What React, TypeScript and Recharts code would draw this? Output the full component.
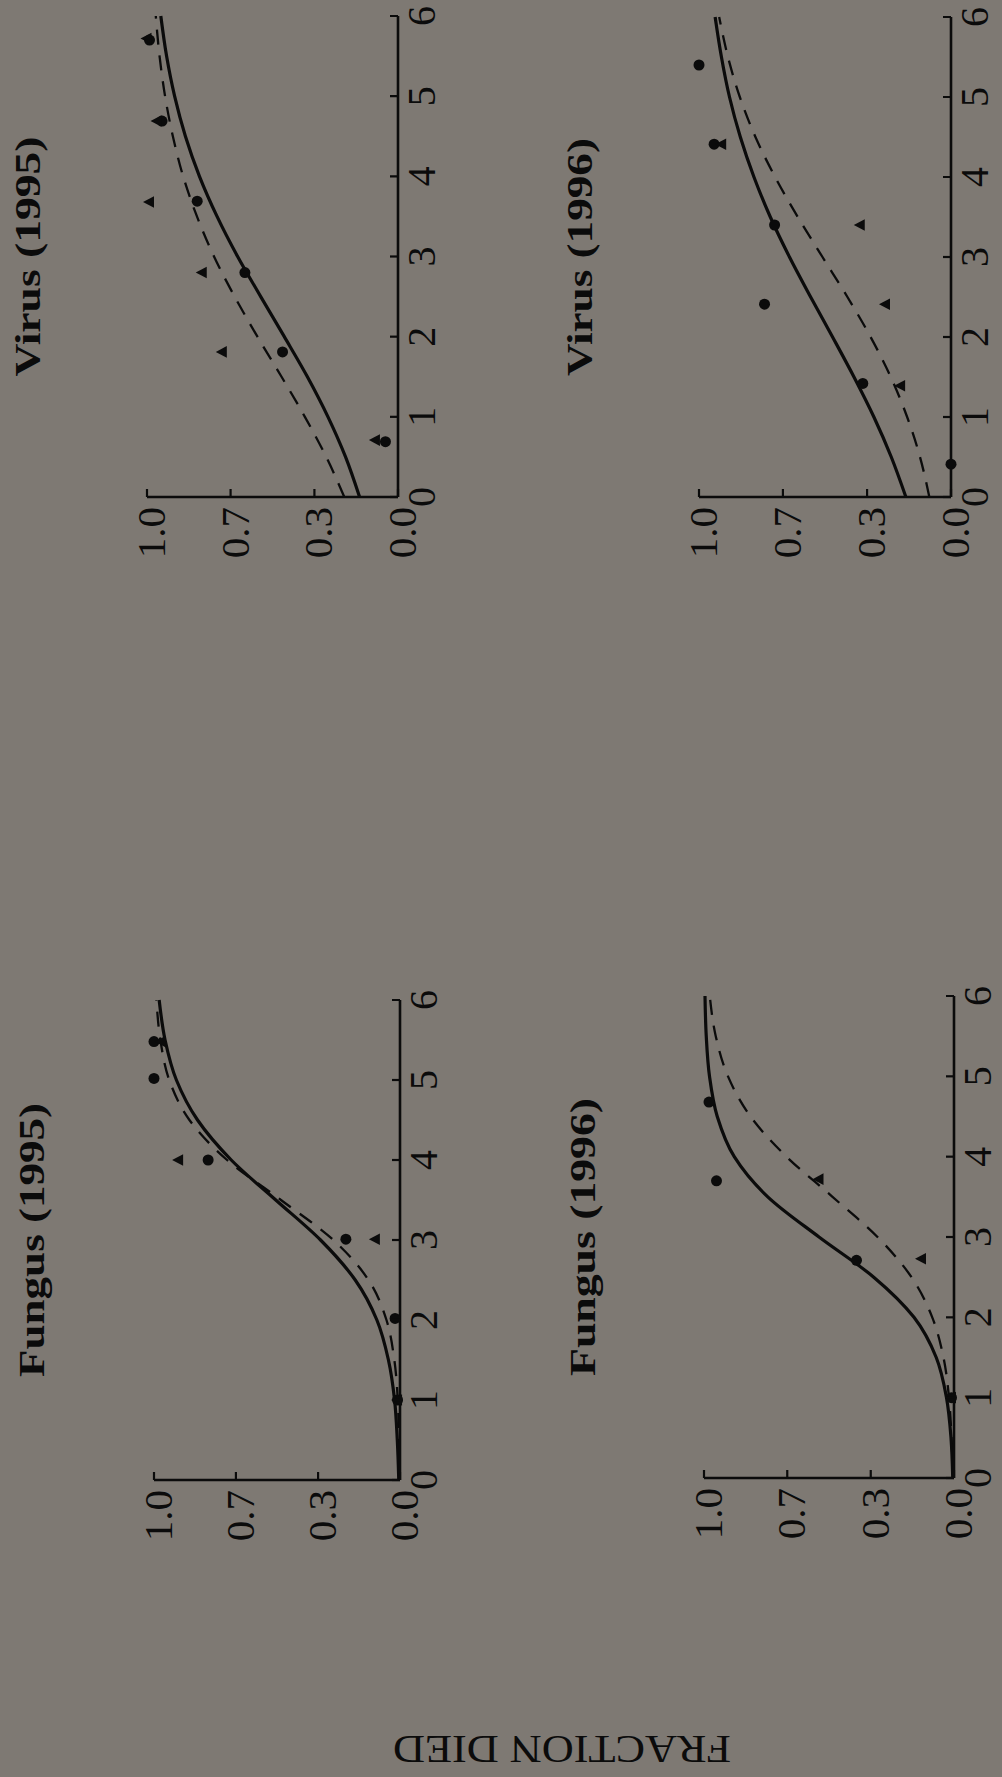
import React from 'react';
import { ComposedChart, Line, Scatter, XAxis, YAxis } from 'recharts';

// ---------- data ----------
const X_TICKS = [0, 1, 2, 3, 4, 5, 6];
const Y_TICKS = [0, 0.333, 0.667, 1];
const Y_TICK_LABELS = ['0.0', '0.3', '0.7', '1.0'];

const CURVE_X = [0, 0.5, 1, 1.5, 2, 2.5, 3, 3.5, 4, 4.5, 5, 5.5, 6];

const FUNGUS95_SOLID = [0.005, 0.011, 0.022, 0.047, 0.094, 0.182, 0.323, 0.505, 0.686, 0.823, 0.909, 0.955, 0.979];
const FUNGUS95_DASHED = [0.001, 0.004, 0.009, 0.023, 0.055, 0.128, 0.271, 0.484, 0.703, 0.856, 0.938, 0.974, 0.99];
const VIRUS95_SOLID = [0.153, 0.209, 0.279, 0.361, 0.453, 0.547, 0.639, 0.721, 0.791, 0.847, 0.89, 0.922, 0.945];
const VIRUS95_DASHED = [0.214, 0.286, 0.371, 0.464, 0.56, 0.651, 0.733, 0.801, 0.856, 0.897, 0.928, 0.95, 0.965];
const FUNGUS96_SOLID = [0.005, 0.012, 0.03, 0.071, 0.16, 0.321, 0.54, 0.745, 0.879, 0.947, 0.978, 0.991, 0.996];
const FUNGUS96_DASHED = [0.004, 0.01, 0.02, 0.042, 0.087, 0.17, 0.306, 0.486, 0.67, 0.814, 0.904, 0.953, 0.977];
const VIRUS96_SOLID = [0.179, 0.237, 0.306, 0.385, 0.47, 0.557, 0.641, 0.717, 0.782, 0.836, 0.879, 0.911, 0.936];
const VIRUS96_DASHED = [0.086, 0.123, 0.174, 0.239, 0.319, 0.411, 0.51, 0.608, 0.698, 0.776, 0.838, 0.885, 0.92];

const FUNGUS95_CIRCLE_X = [1.0, 2.02, 3.01, 4.0, 5.02, 5.48];
const FUNGUS95_CIRCLE_Y = [0.01, 0.02, 0.22, 0.78, 1.0, 1.0];
const FUNGUS95_TRI_X = [1.0, 3.01, 4.0, 5.48];
const FUNGUS95_TRI_Y = [0.01, 0.1, 0.9, 0.97];

const VIRUS95_CIRCLE_X = [0.69, 1.81, 2.8, 3.69, 4.69, 5.7];
const VIRUS95_CIRCLE_Y = [0.05, 0.46, 0.61, 0.8, 0.94, 0.99];
const VIRUS95_TRI_X = [0.71, 1.81, 2.8, 3.68, 4.69, 5.72];
const VIRUS95_TRI_Y = [0.09, 0.7, 0.78, 0.99, 0.96, 1.0];

const FUNGUS96_CIRCLE_X = [1.0, 2.71, 3.7, 4.68];
const FUNGUS96_CIRCLE_Y = [0.01, 0.39, 0.95, 0.98];
const FUNGUS96_TRI_X = [1.0, 2.73, 3.72];
const FUNGUS96_TRI_Y = [0.01, 0.13, 0.54];

const VIRUS96_CIRCLE_X = [0.41, 1.42, 2.41, 3.4, 4.41, 5.4];
const VIRUS96_CIRCLE_Y = [0.0, 0.35, 0.74, 0.7, 0.94, 1.0];
const VIRUS96_TRI_X = [1.39, 2.41, 3.4, 4.41];
const VIRUS96_TRI_Y = [0.2, 0.26, 0.36, 0.91];

const TITLES = ['Fungus (1995)', 'Virus (1995)', 'Fungus (1996)', 'Virus (1996)'];
const Y_LABEL = 'FRACTION DIED';

// ---------- helpers ----------
const zip = (xs: number[], ys: number[]) => xs.map((x, i) => ({ x, y: ys[i] }));
const curve = (s: number[], d: number[]) => CURVE_X.map((x, i) => ({ x, s: s[i], d: d[i] }));

const PANELS = [
  { title: TITLES[0], curve: curve(FUNGUS95_SOLID, FUNGUS95_DASHED), circles: zip(FUNGUS95_CIRCLE_X, FUNGUS95_CIRCLE_Y), tris: zip(FUNGUS95_TRI_X, FUNGUS95_TRI_Y), L: 297, T: 154, W: 480, H: 246, titleY: 44, titleLen: 274 },
  { title: TITLES[1], curve: curve(VIRUS95_SOLID, VIRUS95_DASHED), circles: zip(VIRUS95_CIRCLE_X, VIRUS95_CIRCLE_Y), tris: zip(VIRUS95_TRI_X, VIRUS95_TRI_Y), L: 1280, T: 147, W: 481, H: 251, titleY: 40, titleLen: 240 },
  { title: TITLES[2], curve: curve(FUNGUS96_SOLID, FUNGUS96_DASHED), circles: zip(FUNGUS96_CIRCLE_X, FUNGUS96_CIRCLE_Y), tris: zip(FUNGUS96_TRI_X, FUNGUS96_TRI_Y), L: 299, T: 704, W: 482, H: 250, titleY: 595, titleLen: 278 },
  { title: TITLES[3], curve: curve(VIRUS96_SOLID, VIRUS96_DASHED), circles: zip(VIRUS96_CIRCLE_X, VIRUS96_CIRCLE_Y), tris: zip(VIRUS96_TRI_X, VIRUS96_TRI_Y), L: 1280, T: 699, W: 480, H: 252, titleY: 592, titleLen: 238 },
];

const FONT = "'Liberation Serif', 'Times New Roman', serif";
const INK = '#0b0b0b';
const BG = '#7e7973';
const Y_AXIS_W = 90;
const X_AXIS_H = 46;
const M_TOP = 32;
const M_RIGHT = 14;

const XTick = (props: any) => {
  const { x, y, payload } = props;
  return (
    <g>
      <line x1={x} y1={y} x2={x} y2={y - 8} stroke={INK} strokeWidth={2.2} />
      <text x={x} y={y + 37} textAnchor="middle" fontFamily={FONT} fontSize={40} fill={INK}>
        {payload.value}
      </text>
    </g>
  );
};

const YTick = (props: any) => {
  const { x, y, payload } = props;
  const idx = Y_TICKS.indexOf(payload.value);
  return (
    <g>
      <line x1={x} y1={y} x2={x + 8} y2={y} stroke={INK} strokeWidth={2.2} />
      <text x={x - 10} y={y + 18} textAnchor="end" fontFamily={FONT} fontSize={41} fill={INK}>
        {Y_TICK_LABELS[idx]}
      </text>
    </g>
  );
};

const CircleDot = (p: any) => <circle cx={p.cx} cy={p.cy} r={5.5} fill={INK} />;
const TriDot = (p: any) => (
  <polygon points={`${p.cx},${p.cy - 6.5} ${p.cx - 5.8},${p.cy + 4.5} ${p.cx + 5.8},${p.cy + 4.5}`} fill={INK} />
);

const Panel = ({ panel }: { panel: any }) => {
  const width = Y_AXIS_W + panel.W + M_RIGHT;
  const height = M_TOP + panel.H + X_AXIS_H;
  return (
    <div style={{ position: 'absolute', left: panel.L - Y_AXIS_W, top: panel.T - M_TOP }}>
      <ComposedChart width={width} height={height} data={panel.curve} margin={{ top: M_TOP, right: M_RIGHT, bottom: 0, left: 0 }}>
        <XAxis
          dataKey="x"
          type="number"
          domain={[0, 6]}
          ticks={X_TICKS}
          interval={0}
          height={X_AXIS_H}
          tickSize={0}
          tickMargin={0}
          tickLine={false}
          axisLine={{ stroke: INK, strokeWidth: 2.6 }}
          tick={XTick}
        />
        <YAxis
          type="number"
          domain={[0, 1]}
          ticks={Y_TICKS}
          interval={0}
          width={Y_AXIS_W}
          tickSize={0}
          tickMargin={0}
          tickLine={false}
          axisLine={{ stroke: INK, strokeWidth: 2.6 }}
          tick={YTick}
        />
        <Line type="monotone" dataKey="d" stroke={INK} strokeWidth={2.3} strokeDasharray="15 11" dot={false} isAnimationActive={false} />
        <Line type="monotone" dataKey="s" stroke={INK} strokeWidth={3.2} dot={false} isAnimationActive={false} />
        <Scatter data={panel.circles} dataKey="y" shape={CircleDot} isAnimationActive={false} />
        <Scatter data={panel.tris} dataKey="y" shape={TriDot} isAnimationActive={false} />
      </ComposedChart>
    </div>
  );
};

export default function App() {
  return (
    <div style={{ position: 'absolute', left: 0, top: 0, width: 1002, height: 1777, background: BG, overflow: 'hidden' }}>
      <div
        style={{
          position: 'absolute',
          left: 0,
          top: 0,
          width: 1777,
          height: 1002,
          transformOrigin: '0 0',
          transform: 'translate(0px, 1777px) rotate(-90deg)',
        }}
      >
        <svg width={1777} height={1002} style={{ position: 'absolute', left: 0, top: 0 }}>
          {PANELS.map((p) => (
            <text
              key={p.title}
              x={p.L + p.W / 2}
              y={p.titleY}
              textAnchor="middle"
              fontFamily={FONT}
              fontWeight="bold"
              fontSize={36}
              fill={INK}
              textLength={p.titleLen}
              lengthAdjust="spacingAndGlyphs"
            >
              {p.title}
            </text>
          ))}
          <text
            transform="translate(41, 562) rotate(-90)"
            textAnchor="middle"
            fontFamily={FONT}
            fontSize={40}
            fill={INK}
            textLength={338}
            lengthAdjust="spacingAndGlyphs"
          >
            {Y_LABEL}
          </text>
        </svg>
        {PANELS.map((p) => (
          <Panel key={p.title} panel={p} />
        ))}
      </div>
    </div>
  );
}
